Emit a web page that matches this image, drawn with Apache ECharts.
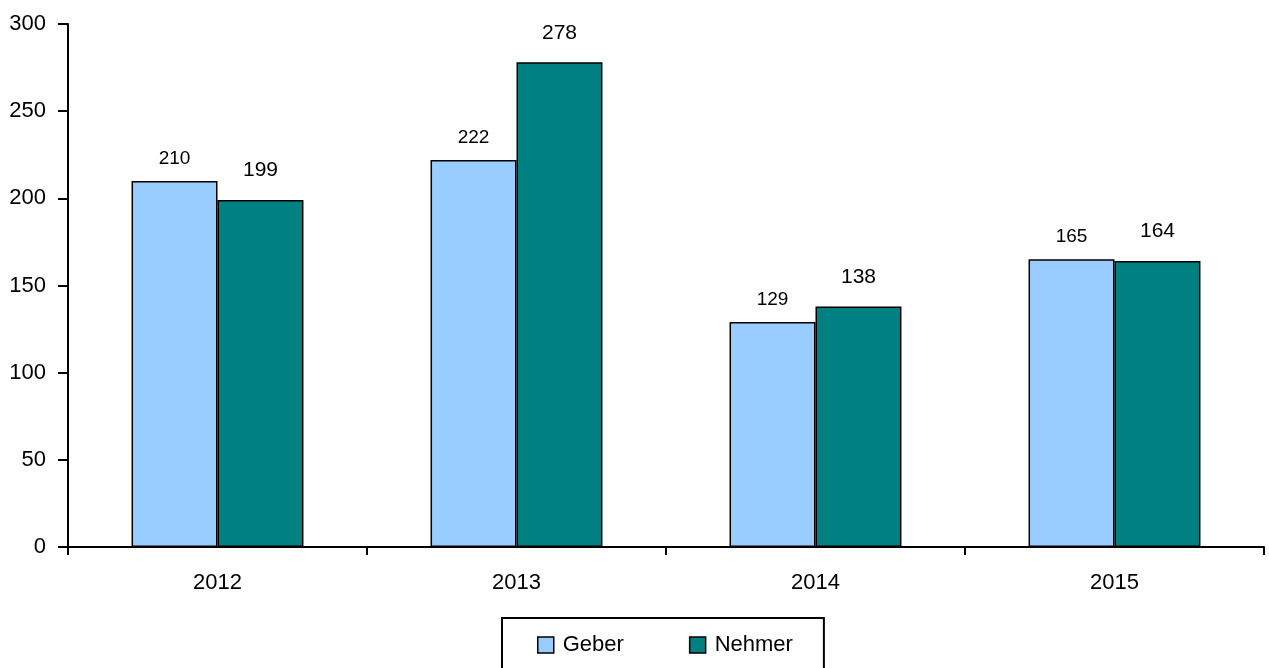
<!DOCTYPE html>
<html><head><meta charset="utf-8">
<script src="https://cdn.jsdelivr.net/npm/echarts@6/dist/echarts.min.js"></script>
<style>html,body{margin:0;padding:0;background:#fff}#c{width:1269px;height:668px}</style>
</head><body><div id="c"></div>
<script>
const categories = ['2012', '2013', '2014', '2015'];
const geber = [210, 222, 129, 165];
const nehmer = [199, 278, 138, 164];
const yTicks = [0, 50, 100, 150, 200, 250, 300];

const chart = echarts.init(document.getElementById('c'));
const font = '"Liberation Sans", Arial, sans-serif';
chart.setOption({
  animation: false,
  textStyle: { fontFamily: font },
  grid: { left: 68, right: 5, top: 24, bottom: 121 },
  legend: {
    data: ['Geber', 'Nehmer'],
    left: 502, top: 618,
    icon: 'rect', itemWidth: 16, itemHeight: 16, itemGap: 65,
    padding: [16, 31, 20, 35],
    borderColor: '#000', borderWidth: 2,
    textStyle: { fontSize: 22, color: '#000', fontFamily: font, padding: [0, 0, 0, 4] },
    itemStyle: { borderColor: '#000', borderWidth: 1.5 }
  },
  xAxis: {
    type: 'category', data: categories,
    axisLine: { lineStyle: { color: '#000', width: 2 } },
    axisTick: { show: true, length: 8, lineStyle: { color: '#000', width: 2 } },
    axisLabel: { fontSize: 22, color: '#000', margin: 25, fontFamily: font }
  },
  yAxis: {
    type: 'value', min: 0, max: 300, interval: 50,
    axisLine: { show: true, lineStyle: { color: '#000', width: 2 } },
    axisTick: { show: true, length: 10, lineStyle: { color: '#000', width: 2 } },
    axisLabel: { fontSize: 22, color: '#000', margin: 22, fontFamily: font,
      formatter: v => yTicks.includes(v) ? String(v) : '' },
    splitLine: { show: false }
  },
  series: [
    { name: 'Geber', type: 'bar', data: geber, barGap: '0%', barCategoryGap: '42.5%',
      itemStyle: { color: '#99CCFF', borderColor: '#000', borderWidth: 1.5 },
      label: { show: true, position: 'top', distance: 13, fontSize: 19, color: '#000', fontFamily: font } },
    { name: 'Nehmer', type: 'bar', data: nehmer, barGap: '0%', barCategoryGap: '42.5%',
      itemStyle: { color: '#008080', borderColor: '#000', borderWidth: 1.5 },
      label: { show: true, position: 'top', distance: 19, fontSize: 21, color: '#000', fontFamily: font } }
  ]
});
</script></body></html>
